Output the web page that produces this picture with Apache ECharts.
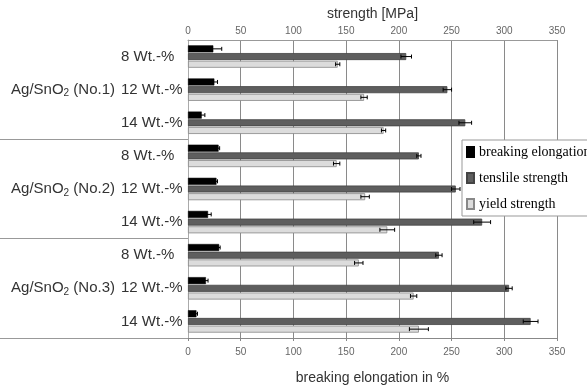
<!DOCTYPE html>
<html><head><meta charset="utf-8">
<script src="https://cdn.jsdelivr.net/npm/echarts@6/dist/echarts.min.js"></script>
<style>html,body{margin:0;padding:0;background:#fff}#c{width:587px;height:390px}</style>
</head><body><div id="c"></div>
<script>
const groups = ['No.1', 'No.2', 'No.3'];
const subCats = ['8 Wt.-%', '12 Wt.-%', '14 Wt.-%'];
const strengthTicks = [0, 50, 100, 150, 200, 250, 300, 350];
const elongation = [24, 25, 13, 29, 27, 19, 29.5, 17, 8];
const elongationErr = [8, 3, 3, 1, 1, 3, 1, 2, 1];
const tensile = [207, 246, 263, 219, 254, 279, 238, 304.5, 325];
const tensileErr = [5, 4, 6, 2, 4, 8, 3, 3, 7];
const yieldS = [142, 167, 185.5, 141, 168, 189, 162, 214, 219];
const yieldErr = [2, 3, 2, 3, 4, 7, 4, 3, 9];

const categories = [];
groups.forEach(g => subCats.forEach(s => categories.push(g + '|' + s)));

const BAR_W = 7, GAP = 0.1;
function errSeries(name, vals, errs, pos, xIdx) {
  return {
    type: 'custom', xAxisIndex: xIdx, yAxisIndex: 0, silent: true, z: 5,
    data: vals.map((v, i) => [v, i, errs[i]]),
    renderItem: function (params, api) {
      const v = api.value(0), c = api.value(1), e = api.value(2);
      const off = (pos - 1) * BAR_W * (1 + GAP);
      const a = api.coord([v - e, c]), b = api.coord([v + e, c]);
      const y = a[1] + off, h = 2;
      const st = {stroke: '#000', lineWidth: 1};
      return {type: 'group', children: [
        {type: 'line', shape: {x1: a[0], y1: y, x2: b[0], y2: y}, style: st},
        {type: 'line', shape: {x1: a[0], y1: y - h, x2: a[0], y2: y + h}, style: st},
        {type: 'line', shape: {x1: b[0], y1: y - h, x2: b[0], y2: y + h}, style: st}
      ]};
    }
  };
}

const chart = echarts.init(document.getElementById('c'));
const tickFont = {fontFamily: 'Liberation Sans Narrow, Liberation Sans, sans-serif', fontSize: 10, color: '#666'};
const sans = 'Liberation Sans, Arial, sans-serif';
chart.setOption({
  animation: false,
  grid: {left: 188, right: 30, top: 40, bottom: 47},
  legend: {
    orient: 'vertical', left: 462, top: 140, icon: 'rect',
    itemWidth: 7, itemHeight: 10, itemGap: 12,
    backgroundColor: '#fff', borderColor: '#999', borderWidth: 1, borderRadius: 0,
    padding: [5, 10, 5, 4],
    textStyle: {fontFamily: 'Liberation Serif, serif', fontSize: 14, color: '#000'},
    data: ['breaking elongation', 'tenslile strength', 'yield strength']
  },
  xAxis: [
    {type: 'value', position: 'top', min: 0, max: 350, interval: 50,
     name: 'strength [MPa]', nameLocation: 'middle', nameGap: 16,
     nameTextStyle: {fontFamily: sans, fontSize: 14, color: '#333'},
     axisLine: {show: true, lineStyle: {color: '#999'}},
     axisTick: {show: false},
     axisLabel: Object.assign({margin: 4}, tickFont),
     splitLine: {show: true, lineStyle: {color: '#8a8a8a', width: 1}}},
    {type: 'value', position: 'bottom', min: 0, max: 350, interval: 50,
     name: 'breaking elongation in %', nameLocation: 'middle', nameGap: 33,
     nameTextStyle: {fontFamily: sans, fontSize: 14, color: '#333'},
     axisLine: {show: true, lineStyle: {color: '#888'}},
     axisTick: {show: true, length: 3, lineStyle: {color: '#888'}},
     axisLabel: Object.assign({margin: 9}, tickFont),
     splitLine: {show: false}}
  ],
  yAxis: [
    {type: 'category', inverse: true, data: categories,
     axisLine: {show: true, lineStyle: {color: '#aaa'}},
     axisTick: {show: true, length: 188, interval: function (i) { return i === 3 || i === 6; },
                lineStyle: {color: '#999'}},
     axisLabel: {align: 'left', margin: 67, fontFamily: sans, fontSize: 15, color: '#333',
                 interval: 0, formatter: v => v.split('|')[1]}},
    {type: 'category', inverse: true, data: categories, position: 'left', offset: 0,
     axisLine: {show: false}, axisTick: {show: false},
     axisLabel: {align: 'right', margin: 73, interval: 0,
       formatter: function (v, i) {
         if (i % 3 !== 1) return '';
         return '{a|Ag/SnO}{s|2}{a| (' + v.split('|')[0] + ')}';
       },
       rich: {a: {fontFamily: sans, fontSize: 15, color: '#333'},
              s: {fontFamily: sans, fontSize: 10, color: '#333', padding: [8, 0, 0, 0]}}}}
  ],
  series: [
    {name: 'breaking elongation', type: 'bar', xAxisIndex: 1, yAxisIndex: 0, data: elongation,
     barWidth: BAR_W, barGap: (GAP * 100) + '%',
     itemStyle: {color: '#000', borderColor: '#000', borderWidth: 0.5}},
    {name: 'tenslile strength', type: 'bar', xAxisIndex: 0, yAxisIndex: 0, data: tensile,
     barWidth: BAR_W, barGap: (GAP * 100) + '%',
     itemStyle: {color: '#5e5e5e', borderColor: '#444', borderWidth: 0.8}},
    {name: 'yield strength', type: 'bar', xAxisIndex: 0, yAxisIndex: 0, data: yieldS,
     barWidth: BAR_W, barGap: (GAP * 100) + '%',
     itemStyle: {color: '#dcdcdc', borderColor: '#888', borderWidth: 0.8}},
    errSeries('e1', elongation, elongationErr, 0, 1),
    errSeries('e2', tensile, tensileErr, 1, 0),
    errSeries('e3', yieldS, yieldErr, 2, 0)
  ]
});
</script></body></html>
